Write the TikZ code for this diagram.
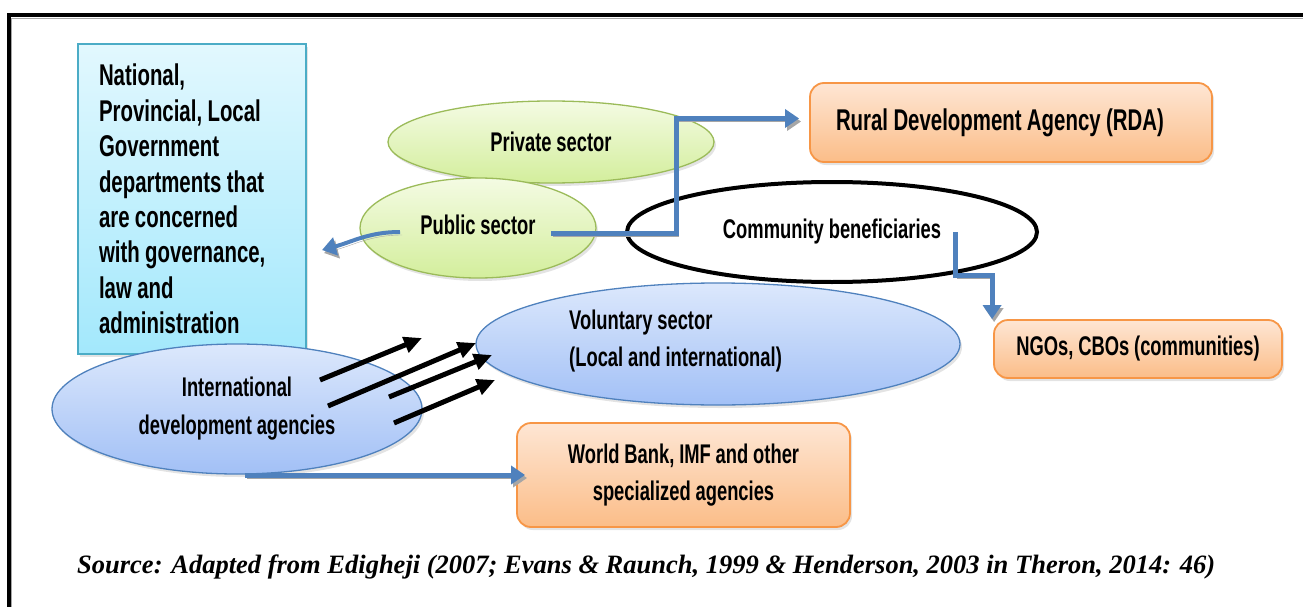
\documentclass[tikz,border=0pt]{standalone}
\usepackage{fontspec}
\usetikzlibrary{arrows.meta,shadows,shapes.geometric,calc}
\newfontfamily\agencyfont[FakeStretch=0.68,WordSpace=0.95]{Liberation Sans}
\newfontfamily\sourcefont{Liberation Serif}

\definecolor{govline}{HTML}{4BACC6}
\definecolor{govtop}{HTML}{E2F8FE}
\definecolor{govbot}{HTML}{A3E8FC}
\definecolor{grnline}{HTML}{9BBB59}
\definecolor{grntop}{HTML}{F4FBE3}
\definecolor{grnbot}{HTML}{D3EE9C}
\definecolor{bluline}{HTML}{4F81BD}
\definecolor{blutop}{HTML}{DCE8FC}
\definecolor{blubot}{HTML}{A2C0F6}
\definecolor{orgline}{HTML}{F79646}
\definecolor{orgtop}{HTML}{FEE6D4}
\definecolor{orgbot}{HTML}{FBBD88}

\tikzset{
	bigtxt/.style={font=\agencyfont\bfseries\fontsize{30}{35.4}\selectfont},
	midtxt/.style={font=\agencyfont\bfseries\fontsize{27}{37}\selectfont},
	softshadow/.style={drop shadow={shadow xshift=2pt, shadow yshift=-3pt, opacity=0.22}},
	lineshadow/.style={preaction={draw=black!35, transform canvas={shift={(2pt,-3pt)}}}},
	govbox/.style={rectangle, draw=govline, line width=1.3pt, top color=govtop, bottom color=govbot,
		bigtxt, align=flush left, text width=186, inner sep=0, minimum width=228, minimum height=310, softshadow},
	greenell/.style={ellipse, draw=grnline, line width=1.3pt, top color=grntop, bottom color=grnbot,
		midtxt, inner sep=0, softshadow},
	blueell/.style={ellipse, draw=bluline, line width=1.3pt, top color=blutop, bottom color=blubot,
		midtxt, align=center, inner sep=0, softshadow},
	commell/.style={ellipse, draw=black, line width=4pt, fill=white, midtxt, inner sep=0},
	orgbox/.style={rectangle, rounded corners=14pt, draw=orgline, line width=1.8pt, top color=orgtop,
		bottom color=orgbot, midtxt, align=center, inner sep=0, softshadow},
	flow/.style={draw=bluline, line width=5pt, -{Triangle[length=14pt,width=18pt]}, lineshadow},
	push/.style={draw=black, line width=5pt, -{Triangle[length=18pt,width=16pt]}}
}

\begin{document}
\begin{tikzpicture}[x=1pt,y=-1pt]
			%%%%% START %%%%%
			\useasboundingbox (0,0) rectangle (1303,607);
			
			% frame
			\draw[line width=4pt, lineshadow] (9,607) -- (9,15) -- (1303,15);
			
			% government departments
			\node[govbox] (gov) at (192,199) {National,\\Provincial, Local\\Government\\departments that\\are concerned\\with governance,\\law and\\administration};
			
			% sectors
			\node[greenell, minimum width=326, minimum height=82] (priv) at (551,142) {Private sector};
			\node[greenell, minimum width=236, minimum height=100] (pub) at (478,228) {\raisebox{7pt}{Public sector}};
			\node[blueell, minimum width=484, minimum height=122] (vol) at (718,344) {};
			\node[midtxt, align=left, anchor=west, inner sep=0] (voltxt) at (569,341) {Voluntary sector\\(Local and international)};
			\node[commell, minimum width=410, minimum height=100] (comm) at (832,232) {\raisebox{5pt}{Community beneficiaries}};
			\node[blueell, minimum width=370, minimum height=130, font=\agencyfont\bfseries\fontsize{27}{38}\selectfont] (intl) at (237,409) {International\\development agencies};
			
			% agencies
			\node[orgbox, bigtxt, align=flush left, text width=350, minimum width=402, minimum height=79] (rda) at (1011,122.5) {\raisebox{4pt}{Rural Development Agency (RDA)}};
			\node[orgbox, minimum width=288, minimum height=58] (ngo) at (1138,349) {NGOs, CBOs (communities)};
			\node[orgbox, minimum width=333, minimum height=104] (wb) at (683.5,475) {World Bank, IMF and other\\specialized agencies};
			
			% connector ends
			\coordinate (publeft) at (400,232);
			\coordinate (govin) at (322,250);
			\coordinate (pubout) at (551,233);
			\coordinate (commout) at (955,232);
			\coordinate (intlout) at (245,475);
			\coordinate (a1s) at (320,380);
			\coordinate (a1e) at (422,338);
			\coordinate (a2s) at (328,406);
			\coordinate (a2e) at (476,343);
			\coordinate (a3s) at (389,397);
			\coordinate (a3e) at (492,355);
			\coordinate (a4s) at (394,423);
			\coordinate (a4e) at (495,380);
			
			% blue connectors
			\draw[flow, line width=4pt] (publeft) to[out=180,in=15] (govin);
			\draw[flow] (pubout) -- ++(125,0) |- ([shift={(-10,-4)}]rda.west);
			\draw[flow] (commout) -- ++(0,43) -| ([xshift=-1]ngo.north west);
			\draw[flow] (intlout) -- ([xshift=9]wb.west);
			
			% black arrows
			\draw[push] (a1s) -- (a1e);
			\draw[push] (a2s) -- (a2e);
			\draw[push] (a3s) -- (a3e);
			\draw[push] (a4s) -- (a4e);
			
			% source
			\node[anchor=west, inner sep=0, font=\sourcefont\bfseries\itshape\fontsize{26.5}{30}\selectfont] (src) at (77,567) {Source: Adapted from Edigheji (2007; Evans \& Raunch, 1999 \& Henderson, 2003 in Theron, 2014: 46)};
			
			%%%%% END %%%%%
\end{tikzpicture}
\end{document}
